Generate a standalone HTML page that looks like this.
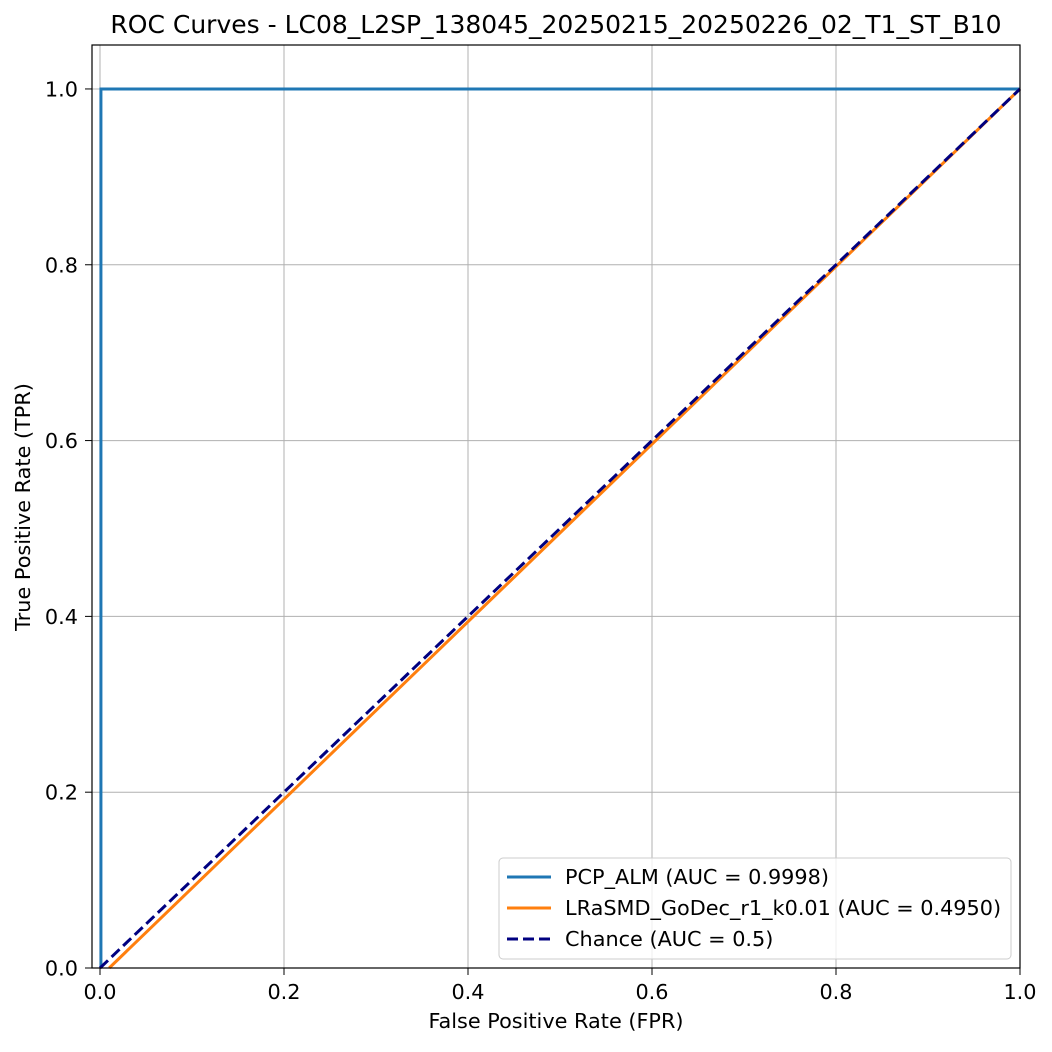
<!DOCTYPE html>
<html><head><meta charset="utf-8"><style>
body{margin:0;background:#fff;}
svg text{font-family:"DejaVu Sans","Liberation Sans",sans-serif;fill:#000;}
</style></head><body>
<svg id="chart" width="1052" height="1047">
<rect width="1052" height="1047" fill="#fff"/>
<g id="grid"></g><g id="series"></g><g id="axes"></g>
<text x="556" y="33" font-size="25" text-anchor="middle">ROC Curves - LC08_L2SP_138045_20250215_20250226_02_T1_ST_B10</text>
<text x="556" y="1028" font-size="20.8" text-anchor="middle">False Positive Rate (FPR)</text>
<text x="30" y="507" font-size="20.8" text-anchor="middle" transform="rotate(-90 30 507)">True Positive Rate (TPR)</text>
<g>
<rect x="499" y="858" width="512" height="101" rx="4" fill="#fff" fill-opacity="0.8" stroke="#ccc"/>
<line x1="507" y1="877" x2="551" y2="877" stroke="#1f77b4" stroke-width="3"/>
<text x="565" y="884" font-size="20.8">PCP_ALM (AUC = 0.9998)</text>
<line x1="507" y1="908" x2="551" y2="908" stroke="#ff7f0e" stroke-width="3"/>
<text x="565" y="915" font-size="20.8">LRaSMD_GoDec_r1_k0.01 (AUC = 0.4950)</text>
<line x1="507" y1="939" x2="551" y2="939" stroke="#000080" stroke-width="3" stroke-dasharray="11,5"/>
<text x="565" y="946" font-size="20.8">Chance (AUC = 0.5)</text>
</g>
</svg>
<script>
const xTicks=[0,0.2,0.4,0.6,0.8,1.0];
const yTicks=[0,0.2,0.4,0.6,0.8,1.0];
const pcpFpr=[0.001,0.001,1];
const pcpTpr=[0,1,1];
const godecFpr=[0.01,1];
const godecTpr=[0,1];
const chanceFpr=[0,1];
const chanceTpr=[0,1];
const L=92,R=1020,T=45,B=968,xmin=-0.0087,xmax=1,ymin=0,ymax=1.05;
const sx=v=>L+(v-xmin)/(xmax-xmin)*(R-L);
const sy=v=>B-(v-ymin)/(ymax-ymin)*(B-T);
const NS='http://www.w3.org/2000/svg';
function mk(t,a,p){const e=document.createElementNS(NS,t);for(const k in a)e.setAttribute(k,a[k]);p.appendChild(e);return e;}
const grid=document.getElementById('grid'),axes=document.getElementById('axes'),ser=document.getElementById('series');
xTicks.forEach(v=>{
 const g=mk('line',{x1:sx(v),x2:sx(v),y1:T,y2:B,stroke:'#b0b0b0','stroke-width':1},grid);
 
 
 mk('line',{x1:sx(v),x2:sx(v),y1:B,y2:B+7,stroke:'#000'},axes);
 const t=mk('text',{x:sx(v),y:999,'font-size':20.8,'text-anchor':'middle'},axes);t.textContent=v.toFixed(1);
 
 
});
yTicks.forEach(v=>{
 const g=mk('line',{x1:L,x2:R,y1:sy(v),y2:sy(v),stroke:'#b0b0b0','stroke-width':1},grid);
 
 
 mk('line',{x1:L-7,x2:L,y1:sy(v),y2:sy(v),stroke:'#000'},axes);
 const t=mk('text',{x:L-14,y:sy(v)+7.5,'font-size':20.8,'text-anchor':'end'},axes);t.textContent=v.toFixed(1);
 
 
});
const fr=mk('rect',{x:L,y:T,width:R-L,height:B-T,fill:'none',stroke:'#000','stroke-width':1.2},axes);


function line(xs,ys,col,dash,name){
 const p=mk('polyline',{points:xs.map((x,i)=>sx(x)+','+sy(ys[i])).join(' '),fill:'none',stroke:col,'stroke-width':3},ser);
 if(dash)p.setAttribute('stroke-dasharray',dash);
 
 
}
line(pcpFpr,pcpTpr,'#1f77b4',null,'pcp-alm-curve');
line(godecFpr,godecTpr,'#ff7f0e',null,'godec-curve');
line(chanceFpr,chanceTpr,'#000080','11,5','chance-line');
</script>
</body></html>
